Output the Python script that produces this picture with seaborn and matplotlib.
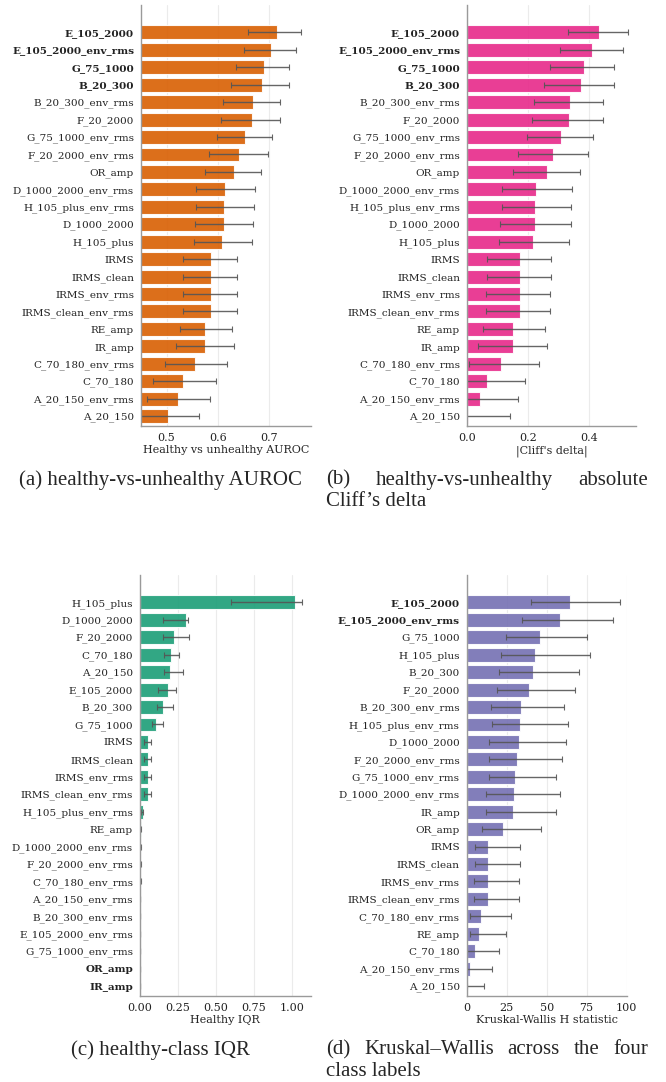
import numpy as np
import pandas as pd
import matplotlib.pyplot as plt
import seaborn as sns

# (a) healthy vs unhealthy AUROC, with bootstrap CI
feat_a = ["E_105_2000", "E_105_2000_env_rms", "G_75_1000", "B_20_300", "B_20_300_env_rms",
          "F_20_2000", "G_75_1000_env_rms", "F_20_2000_env_rms", "OR_amp", "D_1000_2000_env_rms",
          "H_105_plus_env_rms", "D_1000_2000", "H_105_plus", "IRMS", "IRMS_clean", "IRMS_env_rms",
          "IRMS_clean_env_rms", "RE_amp", "IR_amp", "C_70_180_env_rms", "C_70_180",
          "A_20_150_env_rms", "A_20_150"]
auroc = [0.716, 0.705, 0.691, 0.686, 0.669, 0.667, 0.654, 0.642, 0.631, 0.614, 0.612, 0.612,
         0.608, 0.587, 0.587, 0.586, 0.586, 0.576, 0.575, 0.556, 0.533, 0.522, 0.503]
auroc_lo = [0.660, 0.652, 0.635, 0.626, 0.610, 0.607, 0.599, 0.583, 0.575, 0.558, 0.558, 0.556,
            0.554, 0.533, 0.533, 0.533, 0.533, 0.527, 0.519, 0.497, 0.474, 0.462, 0.441]
auroc_hi = [0.764, 0.754, 0.740, 0.740, 0.722, 0.722, 0.707, 0.699, 0.685, 0.673, 0.671, 0.670,
            0.668, 0.638, 0.638, 0.637, 0.637, 0.628, 0.632, 0.618, 0.596, 0.585, 0.563]
bold_a = ["E_105_2000", "E_105_2000_env_rms", "G_75_1000", "B_20_300"]

# (b) absolute Cliff's delta
feat_b = feat_a
cliff = [0.435, 0.412, 0.383, 0.374, 0.338, 0.336, 0.308, 0.284, 0.262, 0.226, 0.223, 0.222,
         0.216, 0.175, 0.174, 0.173, 0.173, 0.152, 0.150, 0.111, 0.066, 0.042, 0.004]
cliff_lo = [0.333, 0.306, 0.272, 0.252, 0.221, 0.214, 0.197, 0.167, 0.152, 0.114, 0.115, 0.110,
            0.105, 0.066, 0.065, 0.063, 0.063, 0.051, 0.037, 0.008, -0.05, -0.08, -0.13]
cliff_hi = [0.530, 0.511, 0.482, 0.482, 0.447, 0.446, 0.414, 0.399, 0.372, 0.345, 0.341, 0.341,
            0.336, 0.277, 0.277, 0.274, 0.274, 0.255, 0.262, 0.237, 0.191, 0.169, 0.141]
bold_b = bold_a

# (c) healthy-class IQR
feat_c = ["H_105_plus", "D_1000_2000", "F_20_2000", "C_70_180", "A_20_150", "E_105_2000",
          "B_20_300", "G_75_1000", "IRMS", "IRMS_clean", "IRMS_env_rms", "IRMS_clean_env_rms",
          "H_105_plus_env_rms", "RE_amp", "D_1000_2000_env_rms", "F_20_2000_env_rms",
          "C_70_180_env_rms", "A_20_150_env_rms", "B_20_300_env_rms", "E_105_2000_env_rms",
          "G_75_1000_env_rms", "OR_amp", "IR_amp"]
iqr = [1.018, 0.301, 0.224, 0.202, 0.200, 0.187, 0.149, 0.108, 0.051, 0.051, 0.050, 0.050,
       0.018, 0.004, 0.003, 0.003, 0.002, 0.002, 0.002, 0.001, 0.001, 0.0, 0.0]
iqr_lo = [0.602, 0.149, 0.154, 0.160, 0.160, 0.121, 0.114, 0.081, 0.029, 0.029, 0.029, 0.029,
          0.009, 0.002, 0.002, 0.002, 0.001, 0.001, 0.001, 0.001, 0.001, 0.0, 0.0]
iqr_hi = [1.070, 0.319, 0.321, 0.255, 0.286, 0.235, 0.218, 0.149, 0.073, 0.073, 0.073, 0.073,
          0.022, 0.007, 0.005, 0.005, 0.004, 0.003, 0.003, 0.002, 0.002, 0.0, 0.0]
bold_c = ["OR_amp", "IR_amp"]

# (d) Kruskal-Wallis H across the four classes
feat_d = ["E_105_2000", "E_105_2000_env_rms", "G_75_1000", "H_105_plus", "B_20_300",
          "F_20_2000", "B_20_300_env_rms", "H_105_plus_env_rms", "D_1000_2000",
          "F_20_2000_env_rms", "G_75_1000_env_rms", "D_1000_2000_env_rms", "IR_amp", "OR_amp",
          "IRMS", "IRMS_clean", "IRMS_env_rms", "IRMS_clean_env_rms", "C_70_180_env_rms",
          "RE_amp", "C_70_180", "A_20_150_env_rms", "A_20_150"]
kw_h = [64.6, 58.4, 45.8, 42.9, 41.2, 38.7, 33.9, 33.3, 32.4, 31.6, 30.1, 29.3, 28.9, 22.4,
        13.6, 13.6, 13.2, 13.2, 9.2, 7.7, 5.0, 2.3, 0.4]
kw_lo = [40.2, 34.7, 24.5, 21.5, 20.1, 18.8, 15.1, 15.7, 14.0, 14.0, 14.0, 12.3, 12.1, 9.4,
         5.0, 5.0, 4.6, 4.6, 2.1, 2.1, 0.2, 0.0, 0.0]
kw_hi = [95.6, 91.2, 74.9, 77.0, 70.3, 67.6, 61.1, 63.4, 62.3, 59.4, 55.6, 58.2, 55.6, 46.2,
         33.5, 33.5, 32.4, 32.4, 27.6, 24.5, 19.9, 15.7, 11.1]
bold_d = ["E_105_2000", "E_105_2000_env_rms"]

pal = sns.color_palette("Dark2")

sns.set_theme(style="whitegrid")
plt.rcParams.update({
    "font.family": ["DejaVu Serif"],
    "font.size": 8,
    "axes.edgecolor": "#9a9a9a",
    "axes.linewidth": 1.0,
    "grid.color": "#ebebeb",
    "grid.linewidth": 0.8,
    "xtick.color": "#555555",
    "ytick.color": "#555555",
    "xtick.labelcolor": "#222222",
    "ytick.labelcolor": "#222222",
})

W, H = 666, 1082
fig = plt.figure(figsize=(W / 100, H / 100), dpi=100)


def panel(rect, labels, vals, lo, hi, color, xlabel, xlim, xticks, bold, fmt=None):
    ax = fig.add_axes(rect)
    df = pd.DataFrame({"feature": labels, "value": vals})
    sns.barplot(data=df, x="value", y="feature", color=color, saturation=1, alpha=0.9,
                edgecolor="white", linewidth=0.8, width=0.8, errorbar=None, ax=ax)
    v = np.array(vals)
    err = [v - np.array(lo), np.array(hi) - v]
    ax.errorbar(v, np.arange(len(v)), xerr=err, fmt="none", ecolor="#555555",
                elinewidth=1.0, capsize=2, capthick=0.8, alpha=0.9)
    ax.set_xlim(*xlim)
    ax.set_ylim(len(v) - 0.45, -1.57)
    ax.set_xticks(xticks)
    if fmt:
        ax.set_xticklabels([fmt.format(t) for t in xticks])
    ax.set_xlabel(xlabel, fontsize=8, labelpad=2)
    ax.set_ylabel("")
    ax.grid(axis="y", visible=False)
    ax.grid(axis="x", visible=True)
    sns.despine(ax=ax)
    ax.tick_params(axis="both", length=3, width=0.8, pad=2)
    ax.tick_params(axis="x", labelsize=8)
    ax.tick_params(axis="y", labelsize=7.5)
    for t in ax.get_yticklabels():
        if t.get_text() in bold:
            t.set_fontweight("bold")
    return ax


def fr(x0, y0, x1, y1):
    return [x0 / W, 1 - y1 / H, (x1 - x0) / W, (y1 - y0) / H]


panel(fr(141, 5, 310.7, 425.7), feat_a, auroc, auroc_lo, auroc_hi, pal[1],
      "Healthy vs unhealthy AUROC", (0.45, 0.782), [0.5, 0.6, 0.7], bold_a)
panel(fr(467, 5, 636.3, 425.7), feat_b, cliff, cliff_lo, cliff_hi, pal[3],
      "|Cliff's delta|", (0, 0.556), [0.0, 0.2, 0.4], bold_b)
panel(fr(140, 575, 310.7, 995.7), feat_c, iqr, iqr_lo, iqr_hi, pal[0],
      "Healthy IQR", (0, 1.124), [0, 0.25, 0.5, 0.75, 1.0], bold_c, fmt="{:.2f}")
panel(fr(466.7, 575, 627.3, 995.7), feat_d, kw_h, kw_lo, kw_hi, pal[2],
      "Kruskal-Wallis H statistic", (0, 100.4), [0, 25, 50, 75, 100], bold_d, fmt="{:.0f}")

# captions in the document font, justified like the LaTeX subcaptions
cap = dict(family=["Liberation Serif", "DejaVu Serif"], fontsize=15, va="center")
fig.canvas.draw()
renderer = fig.canvas.get_renderer()


def justify(words, x0, x1, y):
    arts = [fig.text(0, 1 - y / H, w, ha="left", **cap) for w in words]
    widths = [a.get_window_extent(renderer).width for a in arts]
    gap = (x1 - x0 - sum(widths)) / (len(words) - 1)
    x = x0
    for a, w in zip(arts, widths):
        a.set_x(x / W)
        x += w + gap


fig.text(160 / W, 1 - 480 / H, "(a) healthy-vs-unhealthy AUROC", ha="center", **cap)
justify(["(b)", "healthy-vs-unhealthy", "absolute"], 326, 648, 480)
fig.text(326 / W, 1 - 502 / H, "Cliff\u2019s delta", ha="left", **cap)
fig.text(160 / W, 1 - 1050 / H, "(c) healthy-class IQR", ha="center", **cap)
justify(["(d)", "Kruskal\u2013Wallis", "across", "the", "four"], 326, 648, 1050)
fig.text(326 / W, 1 - 1072 / H, "class labels", ha="left", **cap)

fig.savefig("out.png", dpi=100)
